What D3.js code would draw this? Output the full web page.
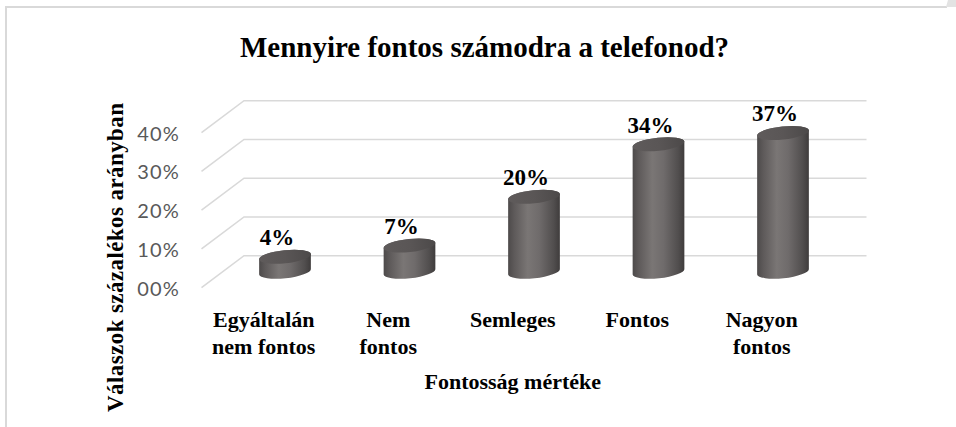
<!DOCTYPE html>
<html>
<head>
<meta charset="utf-8">
<script src="https://cdn.jsdelivr.net/npm/d3@7"></script>
<style>
  html, body { margin: 0; padding: 0; background: #fff; }
  svg { display: block; }
</style>
</head>
<body>
<svg id="chart" width="956" height="427"></svg>
<script>
// ---- data ----
const categories = ["Egyáltalán nem fontos", "Nem fontos", "Semleges", "Fontos", "Nagyon fontos"];
const categoryLines = [["Egyáltalán", "nem fontos"], ["Nem", "fontos"], ["Semleges"], ["Fontos"], ["Nagyon", "fontos"]];
const values = [0.04, 0.07, 0.20, 0.34, 0.37];
const valueLabels = ["4%", "7%", "20%", "34%", "37%"];
const tickValues = [0, 0.1, 0.2, 0.3, 0.4];
const tickLabels = ["00%", "10%", "20%", "30%", "40%"];
const titleText = "Mennyire fontos számodra a telefonod?";
const xTitle = "Fontosság mértéke";
const yTitle = "Válaszok százalékos arányban";

// ---- layout ----
const svg = d3.select("#chart");
const depthDx = 42.5, depthDy = 32;   // oblique depth of the floor/walls
const serif = "'Liberation Serif', 'Times New Roman', serif";

// mid-depth x scale (bars sit at mid-depth)
const x = d3.scaleBand().domain(categories).range([222.75, 845.25]).padding(0);
const xc = d => x(d) + x.bandwidth() / 2;
// back wall value scale
const yWall = d3.scaleLinear().domain([0, 0.4]).range([255.7, 100.7]);
// bar value scale (mid-depth)
const yBar = d3.scaleLinear().domain([0, 0.4]).range([271.7, 121.7]);

const backX0 = x.range()[0] + depthDx / 2, backX1 = x.range()[1] + depthDx / 2;

// frame
const frame = svg.append("g").attr("stroke", "#d9d9d9").attr("stroke-width", 2).attr("fill", "none");
frame.append("path").attr("d", "M6,427 L6,7 L947,7");
svg.append("path").attr("d", "M946,7 L956,7 L956,0 L948,0 Z").attr("fill", "#e3e3e3");

// gridlines
const grid = svg.append("g").attr("stroke", "#d9d9d9").attr("stroke-width", 1.6).attr("fill", "none");
tickValues.forEach(t => {
  const yb = yWall(t);
  grid.append("path").attr("d", `M${backX0 - depthDx},${yb + depthDy} L${backX0},${yb} L${backX1},${yb}`);
});

// tick labels
svg.append("g").selectAll("text").data(tickValues).join("text")
  .attr("x", 180)
  .attr("y", t => yWall(t) + depthDy + 1)
  .attr("dy", "0.35em")
  .attr("text-anchor", "end")
  .attr("font-family", "Lato, 'Open Sans', sans-serif")
  .attr("font-size", 20)
  .attr("letter-spacing", "1.2px")
  .attr("fill", "#595959")
  .text((t, i) => tickLabels[i]);

// gradients
const defs = svg.append("defs");
const bodyGrad = defs.append("linearGradient").attr("id", "body").attr("x1", "0").attr("x2", "1").attr("y1", "0").attr("y2", "0");
[[0, "#4d4a4a"], [0.12, "#5e5a5a"], [0.38, "#7a7675"], [0.6, "#6f6b6b"], [0.88, "#514e4e"], [1, "#3f3c3c"]]
  .forEach(([o, c]) => bodyGrad.append("stop").attr("offset", o).attr("stop-color", c));
const topGrad = defs.append("linearGradient").attr("id", "top").attr("x1", "0").attr("x2", "1").attr("y1", "0").attr("y2", "0");
[[0, "#5f5b5b"], [0.5, "#5a5656"], [1, "#4c4949"]]
  .forEach(([o, c]) => topGrad.append("stop").attr("offset", o).attr("stop-color", c));

// cylinders
const rx = 26, ry = 6.5, rot = -6;
const th = rot * Math.PI / 180;
const bars = svg.append("g");
categories.forEach((c, i) => {
  const cx = xc(c);
  const yt = yBar(values[i]), yb = yBar(0);
  const dx = rx * Math.cos(th), dy = rx * Math.sin(th);
  const Lt = [cx - dx, yt - dy], Rt = [cx + dx, yt + dy];
  const Lb = [cx - dx, yb - dy], Rb = [cx + dx, yb + dy];
  bars.append("path")
    .attr("d", `M${Lt} L${Lb} A${rx},${ry} ${rot} 0 0 ${Rb} L${Rt} A${rx},${ry} ${rot} 0 0 ${Lt} Z`)
    .attr("fill", "url(#body)");
  bars.append("ellipse")
    .attr("cx", cx).attr("cy", yt).attr("rx", rx).attr("ry", ry)
    .attr("transform", `rotate(${rot},${cx},${yt})`)
    .attr("fill", "url(#top)");
});

// value labels
svg.append("g").selectAll("text").data(categories).join("text")
  .attr("x", d => xc(d) - 8)
  .attr("y", (d, i) => yBar(values[i]) - 11.5)
  .attr("text-anchor", "middle")
  .attr("font-family", serif)
  .attr("font-weight", "bold")
  .attr("font-size", 23)
  .attr("fill", "#000")
  .text((d, i) => valueLabels[i]);

// category labels
const cat = svg.append("g");
categories.forEach((c, i) => {
  const t = cat.append("text")
    .attr("text-anchor", "middle")
    .attr("font-family", serif)
    .attr("font-weight", "bold")
    .attr("font-size", 22)
    .attr("fill", "#000");
  categoryLines[i].forEach((ln, j) => {
    t.append("tspan").attr("x", xc(c) - depthDx / 2).attr("y", 327 + j * 27).text(ln);
  });
});

// axis titles
svg.append("text")
  .attr("x", (x.range()[0] + x.range()[1]) / 2 - depthDx / 2)
  .attr("y", 389)
  .attr("text-anchor", "middle")
  .attr("font-family", serif).attr("font-weight", "bold").attr("font-size", 22)
  .text(xTitle);

svg.append("text")
  .attr("transform", "translate(123,257.5) rotate(-90)")
  .attr("text-anchor", "middle")
  .attr("font-family", serif).attr("font-weight", "bold").attr("font-size", 23)
  .attr("textLength", 309).attr("lengthAdjust", "spacing")
  .text(yTitle);

// title
svg.append("text")
  .attr("x", 484.5).attr("y", 57)
  .attr("text-anchor", "middle")
  .attr("font-family", serif).attr("font-weight", "bold").attr("font-size", 29)
  .text(titleText);
</script>
</body>
</html>
